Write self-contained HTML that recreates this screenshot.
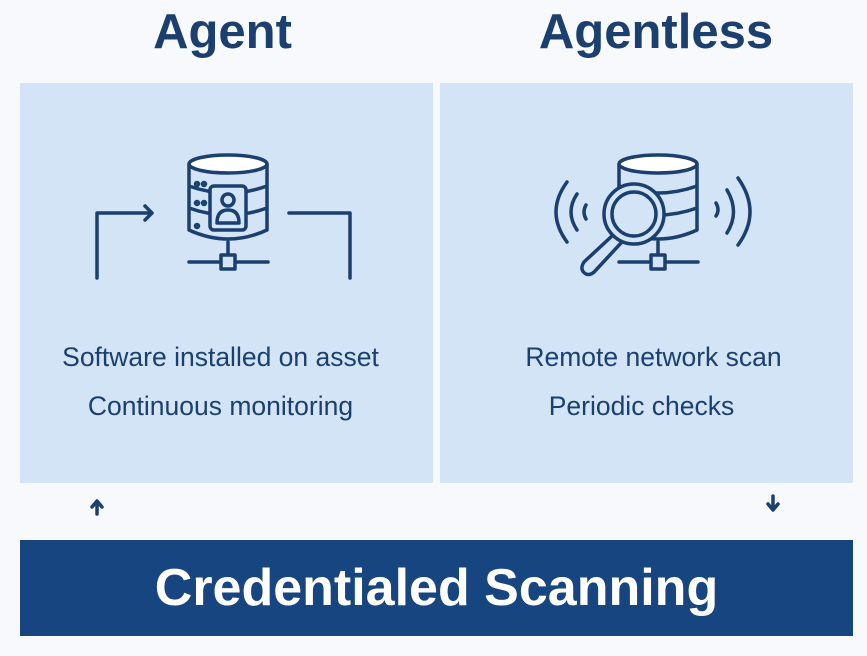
<!DOCTYPE html>
<html><head><style>
body{margin:0;width:867px;height:656px;background:#f7f9fc;position:relative;overflow:hidden;font-family:"Liberation Sans",sans-serif;}
.t{position:absolute;color:#1b3f6e;font-weight:bold;font-size:49px;text-align:center;}
.p{position:absolute;background:#d2e4f5;top:83px;height:400px;}
.l{position:absolute;color:#1b3f6e;font-size:26.5px;text-align:center;width:413px;}
</style></head><body>
<div class="t" style="left:0;width:445px;top:4px">Agent</div>
<div class="t" style="left:440px;width:432px;top:4px">Agentless</div>
<div class="p" style="left:20px;width:413px"></div>
<div class="p" style="left:440px;width:413px"></div>
<div class="l" style="left:14px;top:342px">Software installed on asset</div>
<div class="l" style="left:14px;top:391px">Continuous monitoring</div>
<div class="l" style="left:447px;top:342px">Remote network scan</div>
<div class="l" style="left:435px;top:391px">Periodic checks</div>
<div style="position:absolute;left:20px;top:540px;width:833px;height:96px;background:#16457f;color:#fff;font-weight:bold;font-size:52px;text-align:center;line-height:96px">Credentialed Scanning</div>
<svg width="867" height="656" style="position:absolute;left:0;top:0" fill="none" stroke="#1b3f6e" stroke-width="3.5" stroke-linecap="round" stroke-linejoin="round">
<ellipse cx="228" cy="164" rx="39" ry="9" fill="#fff"/>
<path d="M189 164V230Q228 248 267 230V164M189 186Q228 200 267 186M189 208Q228 222 267 208"/>
<rect x="210" y="186" width="36" height="44" rx="4" fill="#d2e4f5"/>
<circle cx="228" cy="200" r="6"/><path d="M217 223Q217 210 228 210Q239 210 239 223Z"/>
<circle cx="197" cy="184" r="1.5"/><circle cx="204" cy="184" r="1.5"/><circle cx="197" cy="203" r="1.5"/><circle cx="204" cy="203" r="1.5"/><circle cx="197" cy="226" r="1.5"/>
<path d="M228 242V255M189 262H268"/><rect x="221" y="255" width="14" height="14" fill="#d2e4f5"/>
<path d="M97 278V213H152M145 206L152 213L145 220"/>
<path d="M289 213H350V278"/>
<ellipse cx="658" cy="164" rx="39" ry="9" fill="#fff"/>
<path d="M619 164V230Q658 248 697 230V164M619 186Q658 200 697 186M619 208Q658 222 697 208"/>
<path d="M658 242V255M619 262H698"/><rect x="651" y="255" width="14" height="14" fill="#d2e4f5"/>
<circle cx="634" cy="214" r="30" fill="#d2e4f5"/><circle cx="634" cy="214" r="22"/>
<path d="M612 236L584 262Q579 270 586 274Q591 276 596 270L621 243"/>
<path d="M567 182Q545 212 567 242M577 194Q565 212 577 230M586 205Q582 212 586 219"/>
<path d="M738 178Q762 212 738 245M727 190Q740 212 727 233M716 203Q720 210 716 216"/>
<path d="M97 514V502M92 507L97 501L102 507"/>
<path d="M773 496V509M768 504L773 510L778 504"/>
</svg>
</body></html>
